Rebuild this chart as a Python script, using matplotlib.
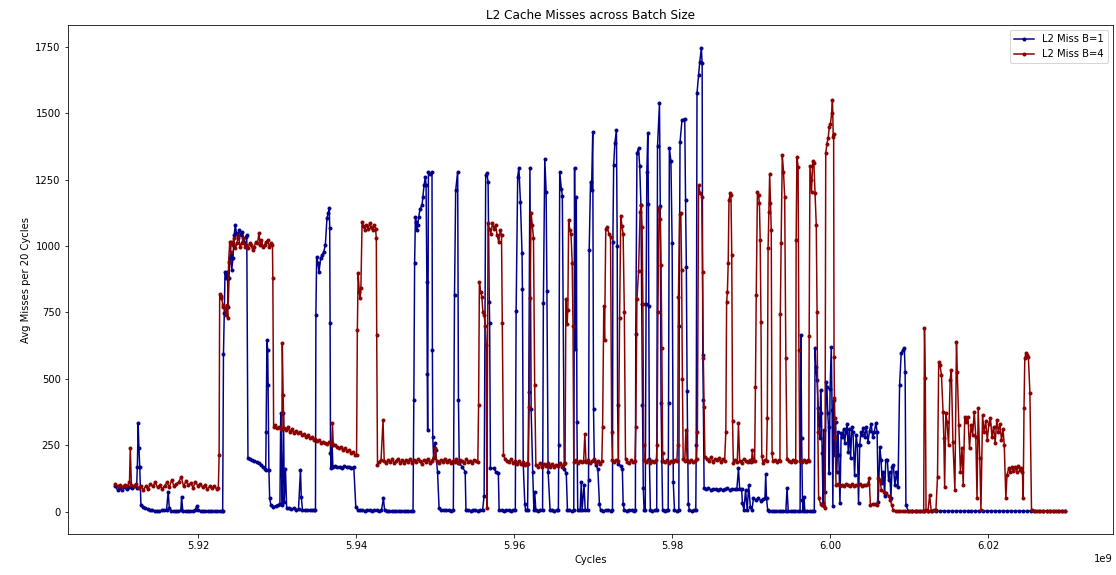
import matplotlib
matplotlib.use("Agg")
import matplotlib.pyplot as plt

# (cycle in millions, avg misses per 20 cycles)
miss_b1 = [
    (5909.5, 95), (5909.8, 82), (5910.1, 88), (5910.4, 80), (5910.7, 92), (5911.0, 86),
    (5911.3, 94), (5911.6, 88), (5911.9, 96), (5912.2, 90),
    (5912.3, 170), (5912.4, 332), (5912.5, 238), (5912.6, 169), (5912.75, 25),
    (5913.0, 18), (5913.3, 12), (5913.6, 10), (5913.9, 8), (5914.2, 5), (5914.5, 3),
    (5914.8, 4), (5915.1, 2), (5915.4, 5), (5915.7, 6), (5916.0, 8), (5916.2, 75),
    (5916.35, 12), (5916.6, 4), (5916.9, 3), (5917.2, 2), (5917.5, 3), (5917.8, 5),
    (5917.9, 56), (5918.05, 3), (5918.4, 2), (5918.7, 3), (5919.0, 2), (5919.3, 4),
    (5919.6, 6), (5919.8, 20), (5920.0, 5), (5920.3, 2), (5920.6, 3), (5920.9, 2),
    (5921.2, 3), (5921.5, 2), (5921.8, 3), (5922.1, 2), (5922.4, 3), (5922.7, 2),
    (5923.0, 3), (5923.1, 3),
    (5923.2, 592), (5923.3, 747), (5923.4, 903), (5923.55, 878), (5923.7, 903),
    (5923.8, 772), (5923.9, 878), (5924.0, 954), (5924.1, 966), (5924.25, 911),
    (5924.4, 954), (5924.55, 1041), (5924.7, 1079), (5924.85, 1048), (5925.0, 1029),
    (5925.2, 1060), (5925.4, 1040), (5925.6, 1054), (5925.8, 1016), (5926.0, 1035),
    (5926.15, 1040),
    (5926.3, 201), (5926.5, 198), (5926.8, 195), (5927.1, 192), (5927.4, 188),
    (5927.7, 182), (5928.0, 176), (5928.2, 168), (5928.4, 160),
    (5928.55, 157), (5928.6, 301), (5928.7, 646), (5928.8, 608), (5928.85, 477),
    (5928.95, 157), (5929.05, 50),
    (5929.2, 25), (5929.5, 19), (5929.8, 22), (5930.1, 25), (5930.35, 30),
    (5930.45, 370), (5930.55, 160), (5930.65, 25), (5930.8, 370), (5930.9, 38),
    (5931.05, 160), (5931.2, 15),
    (5931.5, 12), (5931.8, 10), (5932.1, 12), (5932.4, 8), (5932.7, 10), (5932.95, 157),
    (5933.05, 56), (5933.2, 8), (5933.5, 6), (5933.8, 5), (5934.1, 6), (5934.4, 5),
    (5934.7, 6), (5934.85, 5),
    (5934.9, 740), (5935.0, 960), (5935.15, 935), (5935.3, 903), (5935.5, 954),
    (5935.7, 966), (5935.9, 979), (5936.1, 1004), (5936.3, 1104), (5936.45, 1123),
    (5936.6, 1144), (5936.65, 1067), (5936.7, 709), (5936.75, 220), (5936.85, 163),
    (5936.95, 257), (5937.05, 170), (5937.3, 172), (5937.6, 168), (5937.9, 170),
    (5938.2, 165), (5938.5, 172), (5938.8, 168), (5939.1, 170), (5939.4, 166),
    (5939.7, 168), (5939.95, 19),
    (5940.2, 6), (5940.5, 5), (5940.8, 6), (5941.1, 4), (5941.4, 6), (5941.7, 5),
    (5942.0, 4), (5942.3, 6), (5942.6, 5), (5942.9, 3), (5943.2, 5), (5943.45, 50),
    (5943.6, 5), (5943.9, 3), (5944.2, 4), (5944.5, 3), (5944.8, 2), (5945.1, 3),
    (5945.4, 4), (5945.7, 3), (5946.0, 2), (5946.3, 3), (5946.6, 2), (5946.9, 3),
    (5947.2, 2),
    (5947.3, 420), (5947.4, 935), (5947.5, 1110), (5947.6, 1092), (5947.7, 1060),
    (5947.8, 1079), (5947.92, 1110), (5948.1, 1140), (5948.34, 1154), (5948.45, 1186),
    (5948.6, 1230), (5948.76, 1261), (5948.85, 1230), (5948.95, 866), (5949.0, 520),
    (5949.05, 307), (5949.15, 1280), (5949.4, 1270), (5949.6, 1280), (5949.65, 608),
    (5949.7, 282), (5949.8, 201), (5949.95, 257), (5950.05, 232), (5950.3, 151),
    (5950.5, 12),
    (5950.8, 6), (5951.1, 5), (5951.4, 6), (5951.7, 5), (5952.0, 4), (5952.3, 6),
    (5952.45, 815), (5952.6, 1210), (5952.85, 1280), (5952.95, 420), (5953.05, 182),
    (5953.4, 170), (5953.8, 151), (5953.9, 6),
    (5954.2, 5), (5954.5, 4), (5954.8, 6), (5955.1, 5), (5955.4, 4), (5955.7, 6),
    (5956.0, 5), (5956.2, 60),
    (5956.4, 1267), (5956.55, 1274), (5956.7, 1242), (5956.85, 790), (5956.9, 709),
    (5957.0, 163), (5957.4, 163), (5957.7, 150), (5958.0, 144), (5958.1, 6),
    (5958.4, 5), (5958.7, 4), (5959.0, 6), (5959.3, 5), (5959.6, 4), (5959.9, 5),
    (5960.15, 6),
    (5960.25, 755), (5960.45, 1261), (5960.6, 1295), (5960.8, 1165), (5961.0, 972),
    (5961.05, 838), (5961.15, 180), (5961.35, 30), (5961.45, 6), (5961.7, 5),
    (5961.85, 452), (5962.0, 1295), (5962.15, 385), (5962.35, 151), (5962.5, 6),
    (5962.6, 75), (5962.75, 5), (5963.0, 4), (5963.3, 6), (5963.6, 5),
    (5963.7, 784), (5963.88, 1327), (5964.05, 1205), (5964.15, 830), (5964.3, 151),
    (5964.55, 6), (5964.8, 5), (5965.1, 4), (5965.4, 6), (5965.6, 5),
    (5965.65, 250), (5965.77, 1280), (5965.98, 1215), (5966.1, 1190), (5966.35, 160),
    (5966.6, 144), (5966.75, 6), (5967.0, 5), (5967.3, 4), (5967.55, 6),
    (5967.65, 1295), (5967.75, 612), (5967.87, 1186), (5967.95, 339), (5968.05, 6),
    (5968.35, 5), (5968.5, 110), (5968.6, 5), (5968.85, 100), (5969.0, 5), (5969.3, 6),
    (5969.42, 119), (5969.5, 985), (5969.67, 1243), (5969.8, 1211), (5969.95, 1428),
    (5970.05, 385), (5970.15, 194), (5970.35, 176), (5970.6, 160), (5970.8, 28),
    (5970.95, 5),
    (5971.3, 4), (5971.6, 6), (5971.9, 5), (5972.2, 4), (5972.45, 5),
    (5972.5, 1016), (5972.6, 1305), (5972.75, 1387), (5972.95, 1437), (5973.05, 1000),
    (5973.1, 400), (5973.2, 180), (5973.5, 172), (5973.7, 160), (5973.8, 30),
    (5973.95, 5),
    (5974.3, 4), (5974.6, 6), (5974.9, 5), (5975.2, 4), (5975.35, 5),
    (5975.4, 670), (5975.55, 1350), (5975.75, 1368), (5975.9, 1300), (5976.05, 1154),
    (5976.15, 780), (5976.25, 400), (5976.35, 88), (5976.45, 5),
    (5976.6, 5), (5976.7, 780), (5976.8, 1280), (5976.92, 1424), (5977.0, 1160),
    (5977.05, 775), (5977.12, 200), (5977.25, 5),
    (5977.5, 4), (5977.8, 6), (5978.05, 5), (5978.15, 1375), (5978.4, 1537),
    (5978.5, 1150), (5978.6, 410), (5978.7, 190), (5978.8, 5),
    (5979.1, 4), (5979.4, 6), (5979.5, 5), (5979.55, 410), (5979.65, 1368),
    (5979.85, 1320), (5980.0, 1010), (5980.15, 110), (5980.3, 5),
    (5980.6, 4), (5980.85, 5), (5980.9, 700), (5981.0, 1390), (5981.25, 1474),
    (5981.6, 1480), (5981.7, 1175), (5981.8, 920), (5981.9, 455), (5982.05, 30),
    (5982.2, 5),
    (5982.5, 4), (5982.8, 6), (5983.0, 5), (5983.05, 250), (5983.15, 1575),
    (5983.35, 1645), (5983.5, 1694), (5983.7, 1745), (5983.8, 1688), (5983.88, 590),
    (5983.95, 420), (5984.05, 88),
    (5984.3, 85), (5984.6, 88), (5984.9, 82), (5985.2, 86), (5985.5, 84), (5985.8, 80),
    (5986.1, 86), (5986.4, 83), (5986.7, 85), (5987.0, 88), (5987.3, 82), (5987.6, 86),
    (5987.9, 84), (5988.2, 86), (5988.4, 163), (5988.55, 86), (5988.8, 84),
    (5988.9, 31),
    (5989.1, 6), (5989.3, 82), (5989.5, 6), (5989.7, 100), (5989.9, 19), (5990.1, 6),
    (5990.3, 50), (5990.6, 45), (5990.9, 50), (5991.2, 42), (5991.5, 48), (5991.75, 50),
    (5991.85, 140), (5991.95, 50), (5992.1, 6), (5992.3, 2),
    (5992.6, 3), (5992.9, 2), (5993.2, 3), (5993.5, 2), (5993.8, 3), (5994.1, 2),
    (5994.4, 3), (5994.55, 88), (5994.7, 3), (5995.0, 2), (5995.3, 3), (5995.6, 2),
    (5995.9, 3), (5996.2, 2),
    (5996.3, 665), (5996.4, 276), (5996.5, 44), (5996.6, 3), (5996.7, 56), (5996.8, 3),
    (5997.1, 2), (5997.4, 3), (5997.7, 2), (5998.0, 3),
    (5998.1, 615), (5998.2, 546), (5998.35, 496), (5998.5, 389), (5998.6, 326),
    (5998.7, 276), (5998.8, 459), (5998.9, 370), (5999.0, 220), (5999.1, 31),
    (5999.2, 307), (5999.35, 75), (5999.5, 489), (5999.6, 470), (5999.7, 370),
    (5999.8, 320), (5999.9, 144), (6000.0, 460), (6000.15, 621), (6000.25, 383),
    (6000.35, 20), (6000.45, 420), (6000.6, 213), (6000.7, 339), (6000.85, 150),
    (6001.0, 300), (6001.1, 213), (6001.25, 31),
    (6001.4, 295), (6001.55, 280), (6001.7, 310), (6001.85, 260), (6002.0, 300),
    (6002.15, 330), (6002.3, 226), (6002.45, 310), (6002.6, 201), (6002.75, 320),
    (6002.9, 300), (6003.1, 138), (6003.3, 290), (6003.45, 250), (6003.6, 31),
    (6003.75, 250), (6003.9, 300), (6004.05, 290), (6004.2, 315), (6004.4, 280),
    (6004.6, 320), (6004.8, 264), (6005.0, 305), (6005.2, 330), (6005.4, 280),
    (6005.6, 300), (6005.8, 335), (6005.95, 300), (6006.1, 38),
    (6006.3, 245), (6006.45, 195), (6006.6, 107), (6006.75, 151), (6006.9, 60),
    (6007.05, 195), (6007.25, 195), (6007.4, 120), (6007.55, 150), (6007.7, 50),
    (6007.85, 170), (6008.0, 176), (6008.2, 100), (6008.4, 150), (6008.6, 94),
    (6008.8, 477), (6009.0, 596), (6009.2, 608), (6009.4, 615), (6009.5, 527),
    (6009.6, 25),
    (6009.9, 2), (6010.4, 3), (6010.9, 2), (6011.4, 3), (6011.9, 2), (6012.4, 3),
    (6012.9, 2), (6013.4, 3), (6013.9, 2), (6014.4, 3), (6014.9, 2), (6015.4, 3),
    (6015.9, 2), (6016.4, 3), (6016.9, 2), (6017.4, 3), (6017.9, 2), (6018.4, 3),
    (6018.9, 2), (6019.4, 3), (6019.9, 2), (6020.4, 3), (6020.9, 2), (6021.4, 3),
    (6021.9, 2), (6022.4, 3), (6022.9, 2), (6023.4, 3), (6023.9, 2), (6024.4, 3),
    (6024.9, 2), (6025.4, 3), (6025.9, 2), (6026.4, 3), (6026.9, 2), (6027.4, 3),
    (6027.9, 2), (6028.4, 3), (6028.9, 2), (6029.4, 3), (6029.8, 2),
]

miss_b4 = [
    (5909.5, 105), (5909.8, 95), (5910.1, 100), (5910.4, 92), (5910.7, 102), (5911.0, 96),
    (5911.3, 110), (5911.4, 240), (5911.55, 100), (5911.85, 95), (5912.15, 105),
    (5912.45, 88), (5912.75, 98), (5913.05, 82), (5913.35, 95), (5913.65, 85),
    (5913.95, 105), (5914.25, 95), (5914.55, 110), (5914.85, 92), (5915.15, 100),
    (5915.45, 85), (5915.75, 98), (5916.05, 110), (5916.35, 92), (5916.65, 120),
    (5916.95, 95), (5917.25, 105), (5917.55, 112), (5917.85, 132), (5918.15, 95),
    (5918.45, 115), (5918.75, 100), (5919.05, 108), (5919.35, 90), (5919.65, 112),
    (5919.95, 98), (5920.25, 105), (5920.55, 92), (5920.85, 100), (5921.15, 85),
    (5921.45, 95), (5921.75, 88), (5922.05, 98), (5922.35, 84), (5922.55, 90),
    (5922.65, 213), (5922.72, 818), (5922.85, 803), (5922.95, 812), (5923.1, 778),
    (5923.2, 772), (5923.35, 765), (5923.5, 740), (5923.6, 778), (5923.75, 728),
    (5923.85, 941), (5924.0, 1016), (5924.1, 979), (5924.2, 1016), (5924.35, 1004),
    (5924.5, 1029), (5924.7, 991), (5924.9, 1010), (5925.1, 1041), (5925.3, 998),
    (5925.5, 1010), (5925.7, 1029), (5925.9, 998), (5926.1, 1004), (5926.3, 991),
    (5926.5, 1010), (5926.7, 1004), (5926.9, 985), (5927.1, 998), (5927.3, 1016),
    (5927.5, 1010), (5927.7, 1048), (5927.85, 1004), (5928.0, 1022), (5928.2, 998),
    (5928.4, 1004), (5928.6, 1016), (5928.8, 1022), (5929.0, 998), (5929.2, 1010),
    (5929.4, 1004), (5929.45, 878), (5929.55, 320),
    (5929.7, 326), (5929.95, 314), (5930.2, 318), (5930.45, 310), (5930.6, 312),
    (5930.65, 634), (5930.75, 439), (5930.85, 315), (5931.1, 307), (5931.35, 320),
    (5931.6, 300), (5931.85, 312), (5932.1, 296), (5932.35, 305), (5932.6, 295),
    (5932.85, 300), (5933.1, 289), (5933.35, 292), (5933.6, 282), (5933.85, 288),
    (5934.1, 276), (5934.35, 280), (5934.6, 270), (5934.85, 275), (5935.1, 265),
    (5935.35, 268), (5935.6, 260), (5935.85, 264), (5936.1, 257), (5936.35, 255),
    (5936.55, 262), (5936.9, 250), (5937.0, 332), (5937.1, 252), (5937.35, 251),
    (5937.6, 245), (5937.85, 238), (5938.1, 244), (5938.35, 232), (5938.6, 238),
    (5938.85, 228), (5939.1, 232), (5939.35, 222), (5939.6, 226), (5939.85, 215),
    (5940.05, 213),
    (5940.15, 684), (5940.25, 897), (5940.4, 828), (5940.5, 803), (5940.6, 841),
    (5940.75, 1092), (5940.9, 1075), (5941.1, 1060), (5941.3, 1080), (5941.5, 1065),
    (5941.7, 1085), (5941.9, 1070), (5942.1, 1060), (5942.3, 1078), (5942.45, 1066),
    (5942.55, 1029), (5942.6, 665), (5942.7, 176),
    (5942.9, 188), (5943.15, 195), (5943.4, 345), (5943.55, 190), (5943.8, 182),
    (5944.05, 195), (5944.3, 186), (5944.55, 198), (5944.8, 183), (5945.05, 192),
    (5945.3, 200), (5945.55, 185), (5945.8, 194), (5946.05, 182), (5946.3, 196),
    (5946.55, 188), (5946.8, 200), (5947.05, 184), (5947.3, 193), (5947.55, 186),
    (5947.8, 198), (5948.05, 190), (5948.3, 180), (5948.55, 195), (5948.8, 188),
    (5949.05, 200), (5949.3, 185), (5949.55, 192), (5949.8, 205), (5950.0, 238),
    (5950.2, 190), (5950.45, 184), (5950.7, 196), (5950.95, 188), (5951.2, 200),
    (5951.45, 186), (5951.7, 195), (5951.95, 182), (5952.2, 192), (5952.45, 188),
    (5952.7, 198), (5952.95, 185), (5953.2, 193), (5953.45, 190), (5953.7, 184),
    (5953.95, 198), (5954.2, 188), (5954.45, 192), (5954.7, 185), (5954.95, 196),
    (5955.2, 190), (5955.4, 188),
    (5955.5, 402), (5955.6, 866), (5955.75, 828), (5955.9, 810), (5956.05, 750),
    (5956.2, 740), (5956.35, 700), (5956.45, 627), (5956.55, 12), (5956.7, 1085),
    (5956.85, 1066), (5957.05, 1047), (5957.25, 1085), (5957.45, 1066), (5957.65, 1080),
    (5957.85, 1040), (5958.05, 1016), (5958.25, 1060), (5958.4, 1040), (5958.5, 709),
    (5958.65, 213),
    (5958.85, 200), (5959.1, 192), (5959.35, 186), (5959.6, 198), (5959.85, 184),
    (5960.1, 190), (5960.35, 180), (5960.6, 192), (5960.85, 178), (5961.1, 186),
    (5961.35, 176), (5961.6, 184), (5961.8, 180),
    (5961.9, 395), (5962.0, 803), (5962.15, 1123), (5962.3, 1079), (5962.45, 1029),
    (5962.6, 477), (5962.75, 176),
    (5963.0, 170), (5963.25, 182), (5963.5, 168), (5963.75, 178), (5964.0, 172),
    (5964.25, 185), (5964.5, 170), (5964.75, 180), (5965.0, 168), (5965.25, 176),
    (5965.5, 172), (5965.75, 182), (5966.0, 170), (5966.25, 178), (5966.45, 185),
    (5966.55, 800), (5966.7, 705), (5966.8, 760), (5966.9, 1098), (5967.05, 1060),
    (5967.2, 1045), (5967.35, 935), (5967.45, 700), (5967.55, 188),
    (5967.8, 195), (5968.05, 182), (5968.3, 190), (5968.55, 186), (5968.8, 192),
    (5968.95, 292), (5969.1, 188), (5969.35, 195), (5969.6, 184), (5969.85, 190),
    (5970.1, 198), (5970.35, 185), (5970.6, 192), (5970.85, 180),
    (5971.1, 190), (5971.2, 320), (5971.35, 775), (5971.45, 645), (5971.6, 1065),
    (5971.8, 1070), (5972.0, 1045), (5972.2, 1035), (5972.35, 300), (5972.45, 195),
    (5972.7, 188), (5972.95, 196), (5973.2, 190),
    (5973.35, 728), (5973.5, 1115), (5973.65, 1075), (5973.8, 1045), (5973.95, 750),
    (5974.1, 200),
    (5974.35, 188), (5974.6, 182), (5974.85, 195), (5975.1, 186), (5975.3, 190),
    (5975.4, 320), (5975.55, 800), (5975.75, 905), (5975.95, 1130), (5976.1, 1155),
    (5976.2, 1070), (5976.3, 780), (5976.4, 250), (5976.5, 195),
    (5976.75, 188), (5977.0, 196), (5977.25, 182), (5977.5, 192), (5977.75, 186),
    (5978.0, 195), (5978.1, 250),
    (5978.2, 750), (5978.35, 1145), (5978.5, 1100), (5978.6, 930), (5978.7, 615),
    (5978.8, 220), (5978.9, 190),
    (5979.15, 186), (5979.4, 195), (5979.65, 182), (5979.9, 192), (5980.15, 188),
    (5980.4, 196), (5980.6, 190),
    (5980.7, 250), (5980.8, 810), (5980.95, 1120), (5981.1, 1125), (5981.2, 910),
    (5981.3, 500), (5981.4, 200), (5981.6, 190), (5981.75, 307), (5981.9, 195),
    (5982.15, 188), (5982.4, 196), (5982.65, 186), (5982.9, 192), (5983.1, 200),
    (5983.2, 300), (5983.35, 1230), (5983.55, 1198), (5983.75, 1186), (5983.85, 903),
    (5983.95, 580), (5984.05, 395), (5984.15, 207),
    (5984.4, 200), (5984.65, 192), (5984.9, 205), (5985.15, 188), (5985.4, 198),
    (5985.65, 194), (5985.9, 202), (5986.15, 186), (5986.4, 198), (5986.65, 190),
    (5986.8, 301), (5986.9, 790), (5987.0, 828), (5987.1, 935), (5987.2, 1173),
    (5987.35, 1198), (5987.45, 1192), (5987.55, 966), (5987.65, 340), (5987.75, 185),
    (5988.0, 196), (5988.25, 188), (5988.4, 332), (5988.55, 192), (5988.8, 185),
    (5989.05, 198), (5989.3, 190), (5989.55, 186), (5989.8, 195), (5990.05, 188),
    (5990.15, 232), (5990.3, 190),
    (5990.45, 190), (5990.55, 471), (5990.65, 815), (5990.8, 1205), (5990.95, 1192),
    (5991.05, 1161), (5991.15, 1022), (5991.25, 715), (5991.35, 210), (5991.5, 185),
    (5991.7, 195), (5991.95, 190),
    (5992.05, 351), (5992.15, 991), (5992.25, 1129), (5992.35, 1273), (5992.45, 1161),
    (5992.55, 1060), (5992.65, 220), (5992.75, 190),
    (5993.0, 196), (5993.25, 186), (5993.5, 194), (5993.65, 190),
    (5993.7, 746), (5993.8, 1010), (5993.95, 1342), (5994.1, 1280), (5994.25, 1186),
    (5994.4, 577), (5994.55, 200),
    (5994.8, 192), (5995.05, 186), (5995.3, 196), (5995.55, 188),
    (5995.65, 190), (5995.7, 1022), (5995.8, 1336), (5995.95, 1299), (5996.05, 609),
    (5996.15, 190),
    (5996.4, 186), (5996.65, 196), (5996.9, 188), (5997.15, 194), (5997.3, 190),
    (5997.35, 660), (5997.45, 1300), (5997.55, 1250), (5997.65, 1205), (5997.8, 1320),
    (5997.95, 1311), (5998.1, 1200), (5998.25, 1079), (5998.35, 750), (5998.45, 300),
    (5998.55, 50), (5998.8, 30), (5999.0, 25), (5999.2, 20), (5999.35, 15),
    (5999.45, 1349), (5999.6, 1386), (5999.75, 1405), (5999.9, 1449), (6000.05, 1461),
    (6000.2, 1500), (6000.3, 1549), (6000.4, 1412), (6000.45, 1420), (6000.5, 583),
    (6000.55, 427), (6000.6, 351), (6000.65, 282), (6000.75, 100),
    (6001.0, 104), (6001.25, 98), (6001.5, 102), (6001.75, 96), (6002.0, 104),
    (6002.25, 100), (6002.5, 98), (6002.75, 103), (6003.0, 97), (6003.25, 101),
    (6003.5, 99), (6003.75, 104), (6004.0, 98), (6004.25, 102), (6004.5, 100),
    (6004.75, 103), (6004.95, 125),
    (6005.1, 25), (6005.4, 30), (6005.7, 28), (6006.0, 25), (6006.1, 125), (6006.3, 120),
    (6006.5, 82), (6006.8, 75), (6007.1, 70), (6007.4, 60), (6007.6, 45), (6007.8, 25),
    (6008.0, 5),
    (6008.3, 3), (6008.6, 2), (6008.9, 3), (6009.2, 2), (6009.5, 3), (6009.8, 2),
    (6010.1, 3), (6010.4, 2), (6010.7, 3), (6011.0, 2), (6011.3, 3), (6011.6, 2),
    (6011.85, 3),
    (6011.95, 690), (6012.05, 502), (6012.15, 5), (6012.4, 3), (6012.6, 63), (6012.8, 3),
    (6013.1, 5), (6013.4, 8), (6013.6, 132),
    (6013.75, 565), (6013.9, 552), (6014.1, 515), (6014.3, 376), (6014.4, 276),
    (6014.5, 94), (6014.65, 370), (6014.8, 339), (6015.0, 251), (6015.2, 496),
    (6015.35, 533), (6015.55, 264), (6015.8, 82), (6016.0, 640), (6016.1, 527),
    (6016.3, 326), (6016.5, 151), (6016.7, 238), (6016.85, 100), (6017.05, 358),
    (6017.25, 339), (6017.45, 358), (6017.65, 238), (6017.85, 326), (6018.05, 290),
    (6018.25, 376), (6018.45, 280), (6018.6, 50), (6018.75, 389), (6018.95, 201),
    (6019.1, 6), (6019.3, 364), (6019.5, 300), (6019.7, 340), (6019.9, 270),
    (6020.1, 330), (6020.3, 351), (6020.5, 280), (6020.7, 320), (6020.9, 260),
    (6021.1, 345), (6021.3, 300), (6021.5, 330), (6021.7, 270), (6021.9, 310),
    (6022.05, 250), (6022.25, 50), (6022.4, 138), (6022.6, 163), (6022.8, 150),
    (6023.0, 170), (6023.2, 155), (6023.4, 168), (6023.6, 150), (6023.8, 172),
    (6024.0, 158), (6024.2, 165), (6024.35, 150), (6024.45, 50), (6024.55, 389),
    (6024.65, 577), (6024.8, 596), (6024.95, 590), (6025.1, 583), (6025.3, 445),
    (6025.5, 6),
    (6025.8, 2), (6026.2, 3), (6026.6, 2), (6027.0, 3), (6027.4, 2), (6027.8, 3),
    (6028.2, 2), (6028.6, 3), (6029.0, 2), (6029.4, 3), (6029.8, 2),
]

x1 = [c * 1e6 for c, m in miss_b1]
y1 = [m for c, m in miss_b1]
x4 = [c * 1e6 for c, m in miss_b4]
y4 = [m for c, m in miss_b4]

fig = plt.figure(figsize=(1116 / 72, 575 / 72), dpi=72)
ax = fig.add_axes([0.0607, 0.0708, 0.9366, 0.8857])

ax.plot(x1, y1, color='darkblue', marker='.', label='L2 Miss B=1')
ax.plot(x4, y4, color='darkred', marker='.', label='L2 Miss B=4')

ax.set_title('L2 Cache Misses across Batch Size')
ax.set_xlabel('Cycles')
ax.set_ylabel('Avg Misses per 20 Cycles')
ax.legend(loc='upper right')

fig.savefig('out.png', dpi=72)
